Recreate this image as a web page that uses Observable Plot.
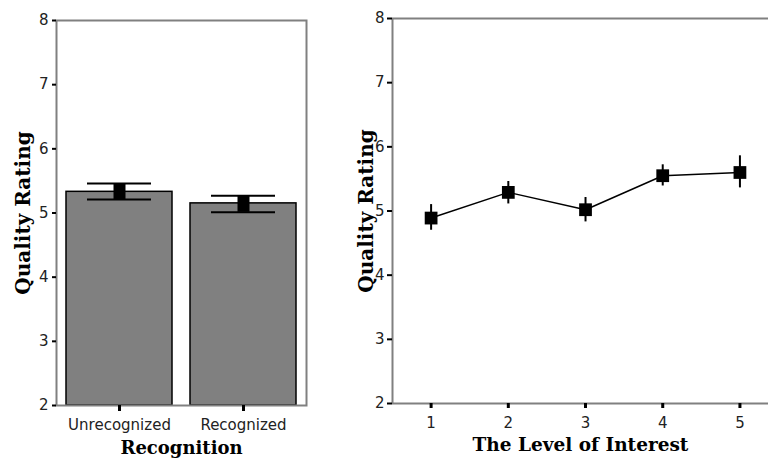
<!DOCTYPE html>
<html>
<head>
<meta charset="utf-8">
<script src="https://cdn.jsdelivr.net/npm/d3@7"></script>
<script src="https://cdn.jsdelivr.net/npm/@observablehq/plot@0.6"></script>
<style>
  html, body { margin: 0; padding: 0; background: #fff; overflow: hidden; }
  #wrap { position: relative; width: 768px; height: 459px; }
  #left { position: absolute; left: 0; top: 0; }
  #right { position: absolute; left: 340px; top: 0; }
</style>
</head>
<body>
<div id="wrap"><div id="left"></div><div id="right"></div></div>
<script>
// ---- data ----
const recognitionCats = ["Unrecognized", "Recognized"];
const recognitionMeans = [5.33, 5.15];
const recognitionLow = [5.21, 5.01];
const recognitionHigh = [5.46, 5.27];

const interestLevels = [1, 2, 3, 4, 5];
const interestMeans = [4.89, 5.29, 5.02, 5.55, 5.60];
const interestLow = [4.70, 5.11, 4.83, 5.39, 5.36];
const interestHigh = [5.10, 5.46, 5.21, 5.72, 5.86];

const yTicks = [2, 3, 4, 5, 6, 7, 8];
const yTitle = "Quality Rating";
const leftXTitle = "Recognition";
const rightXTitle = "The Level of Interest";

const recData = recognitionCats.map((c, i) => ({cat: c, mean: recognitionMeans[i], lo: recognitionLow[i], hi: recognitionHigh[i]}));
const intData = interestLevels.map((l, i) => ({level: l, mean: interestMeans[i], lo: interestLow[i], hi: interestHigh[i]}));

const tickFont = "DejaVu Sans, sans-serif";
const titleFont = "DejaVu Serif, serif";
const gray = "#808080";
const intFmt = d => String(d);

const left = Plot.plot({
  width: 340, height: 459,
  marginLeft: 56, marginRight: 34, marginTop: 20, marginBottom: 54,
  style: {background: "white", overflow: "visible"},
  x: {domain: recognitionCats, paddingInner: 0.145, paddingOuter: 0.0765, label: null},
  y: {domain: [2, 8], label: null},
  marks: [
    Plot.barY(recData, {x: "cat", y1: 2, y2: "mean", fill: gray, stroke: "black", strokeWidth: 1.5}),
    Plot.frame({stroke: gray, strokeWidth: 2}),
    Plot.tickY(recData, {x: "cat", y: "hi", stroke: "black", strokeWidth: 2, insetLeft: 21, insetRight: 21}),
    Plot.tickY(recData, {x: "cat", y: "lo", stroke: "black", strokeWidth: 2, insetLeft: 21, insetRight: 21}),
    Plot.ruleX(recData, {x: "cat", y1: "lo", y2: "hi", stroke: "black", strokeWidth: 12}),
    Plot.axisY({ticks: yTicks, tickFormat: intFmt, tickSize: 4, tickPadding: 4, stroke: "black", strokeWidth: 2, fontSize: 15, fontFamily: tickFont, fill: "#222", label: null}),
    Plot.axisX({tickSize: 6, tickPadding: 8, stroke: "black", strokeWidth: 3, fontSize: 15, fontFamily: tickFont, fill: "#222", label: null}),
    Plot.text([leftXTitle], {frameAnchor: "bottom", text: d => d, dy: 48, lineAnchor: "bottom", fontSize: 18, fontWeight: "bold", fontFamily: titleFont, fill: "black"}),
    Plot.text([yTitle], {frameAnchor: "left", text: d => d, dx: -33, rotate: -90, textAnchor: "middle", lineAnchor: "middle", fontSize: 20, fontWeight: "bold", fontFamily: titleFont, fill: "black"})
  ]
});
document.getElementById("left").appendChild(left);

const right = Plot.plot({
  width: 428, height: 459,
  marginLeft: 52, marginRight: 0, marginTop: 18, marginBottom: 56,
  style: {background: "white", overflow: "visible"},
  x: {domain: [0.5, 5.37], label: null},
  y: {domain: [2, 8], label: null},
  marks: [
    Plot.ruleY([8], {stroke: gray, strokeWidth: 2}),
    Plot.ruleY([2], {stroke: gray, strokeWidth: 2}),
    Plot.ruleX([0.5], {stroke: gray, strokeWidth: 2}),
    Plot.line(intData, {x: "level", y: "mean", stroke: "black", strokeWidth: 1.5}),
    Plot.ruleX(intData, {x: "level", y1: "lo", y2: "hi", stroke: "black", strokeWidth: 2}),
    Plot.dot(intData, {x: "level", y: "mean", symbol: "square", r: 7.2, fill: "black", stroke: "none"}),
    Plot.axisY({ticks: yTicks, tickFormat: intFmt, tickSize: 5, tickPadding: 3, stroke: "black", strokeWidth: 2, fontSize: 15, fontFamily: tickFont, fill: "#222", label: null}),
    Plot.axisX({ticks: interestLevels, tickSize: 5, tickPadding: 9, stroke: "black", strokeWidth: 3, fontSize: 15, fontFamily: tickFont, fill: "#222", label: null, tickFormat: intFmt}),
    Plot.text([rightXTitle], {frameAnchor: "bottom", text: d => d, dy: 47, lineAnchor: "bottom", fontSize: 18.5, fontWeight: "bold", fontFamily: titleFont, fill: "black"}),
    Plot.text([yTitle], {frameAnchor: "left", text: d => d, dx: -26, rotate: -90, textAnchor: "middle", lineAnchor: "middle", fontSize: 20, fontWeight: "bold", fontFamily: titleFont, fill: "black"})
  ]
});
document.getElementById("right").appendChild(right);
</script>
</body>
</html>
